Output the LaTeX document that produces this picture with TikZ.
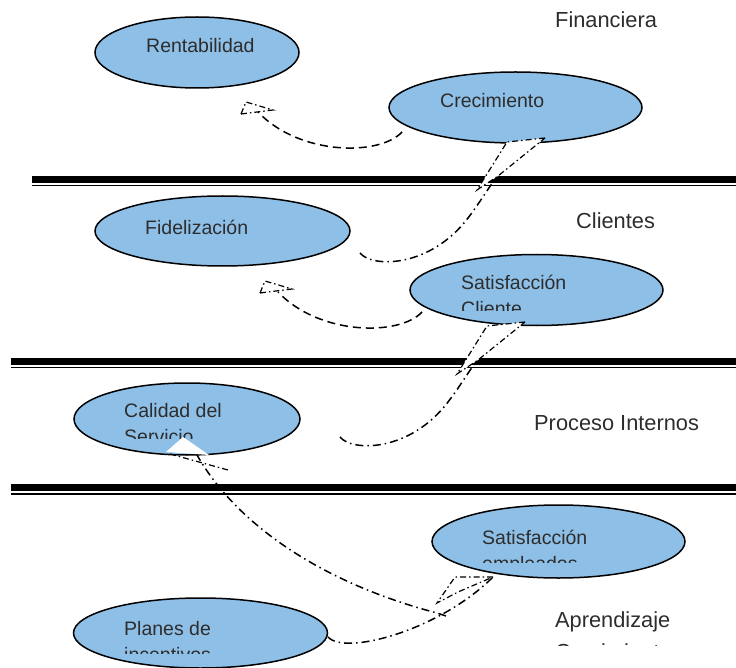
\documentclass[tikz,border=0pt]{standalone}
\usepackage{fontspec}
\setmainfont{Liberation Sans}
\usetikzlibrary{shapes.geometric}
\definecolor{bubble}{RGB}{142,191,231}
\definecolor{ink}{RGB}{45,45,45}

\begin{document}
\begin{tikzpicture}[x=1pt,y=-1pt,
  goal/.style={ellipse, draw=black, line width=1.5pt, fill=bubble, inner sep=0pt},
  gtext/.style={anchor=base west, inner sep=0pt, text=ink, font=\fontsize{19.5}{19.5}\selectfont},
  ltext/.style={anchor=base west, inner sep=0pt, text=ink, font=\fontsize{21.8}{21.8}\selectfont},
  rulethick/.style={line width=7pt},
  rulethin/.style={line width=1.3pt},
  dashlink/.style={line width=1.5pt, dash pattern=on 8pt off 5pt},
  dotlink/.style={line width=1.5pt, dash pattern=on 8pt off 4pt on 1.5pt off 4pt},
  headshape/.style={fill=white, line width=1.2pt, dash pattern=on 6pt off 3pt on 1.5pt off 3pt}
]
\useasboundingbox (0,0) rectangle (736,668);

% perspective separators (double rules)
\draw[rulethick] (32,179.5) -- (736,179.5);
\draw[rulethin]  (32,185.5) -- (736,185.5);
\draw[rulethick] (11,361.5) -- (736,361.5);
\draw[rulethin]  (11,367.5) -- (736,367.5);
\draw[rulethick] (11,487.5) -- (736,487.5);
\draw[rulethin]  (11,494)   -- (736,494);

% objectives
\node[goal, minimum width=204pt, minimum height=71pt] (rent) at (197,52.5) {};
\node[goal, minimum width=253pt, minimum height=71pt] (crec) at (515.5,107.5) {};
\node[goal, minimum width=255pt, minimum height=70pt] (fid)  at (222.5,231) {};
\node[goal, minimum width=253pt, minimum height=71pt] (satc) at (536.5,290) {};
\node[goal, minimum width=226pt, minimum height=72pt] (cal)  at (187,419) {};
\node[goal, minimum width=253pt, minimum height=73pt] (semp) at (558.5,541.5) {};
\node[goal, minimum width=254pt, minimum height=70pt] (plan) at (200.5,633) {};

% objective labels
\node[gtext] (rentT) at (146,53) {Rentabilidad};
\node[gtext] (crecT) at (440,108) {Crecimiento};
\node[gtext] (fidT)  at (145,235) {Fidelización};
\node[gtext] (satcT) at (461,290) {Satisfacción};
\begin{scope}
  \clip (400,295) rectangle (700,310);
  \node[gtext] (satcT2) at (461,316) {Cliente};
\end{scope}
\node[gtext] (calT) at (124,417) {Calidad del};
\begin{scope}
  \clip (100,420) rectangle (300,438);
  \node[gtext] (calT2) at (124,443) {Servicio};
\end{scope}
\node[gtext] (sempT) at (482,544) {Satisfacción};
\begin{scope}
  \clip (450,548) rectangle (700,562);
  \node[gtext] (sempT2) at (482,570) {empleados};
\end{scope}
\node[gtext] (planT) at (124,635) {Planes de};
\begin{scope}
  \clip (100,640) rectangle (300,653);
  \node[gtext] (planT2) at (124,661) {incentivos};
\end{scope}

% perspective titles
\node[ltext] (fin) at (555,28) {Financiera};
\node[ltext] (cli) at (576,229) {Clientes};
\node[ltext] (pro) at (534,430) {Proceso Internos};
\node[ltext] (apr) at (555,627) {Aprendizaje};
\begin{scope}
  \clip (540,632) rectangle (736,645);
  \node[ltext] (apr2) at (555,659) {Crecimiento};
\end{scope}

% connector end points
\coordinate (c1s) at (402,132);
\coordinate (c1e) at (258,112);
\coordinate (c2s) at (360,253);
\coordinate (c2m) at (468,218);
\coordinate (c2e) at (545,138);
\coordinate (c3s) at (422,312);
\coordinate (c3e) at (278,292);
\coordinate (c4s) at (340,437);
\coordinate (c4m) at (448,402);
\coordinate (c4e) at (525,322);
\coordinate (c5s) at (437,613);
\coordinate (c5e) at (197,455);
\coordinate (c6s) at (328,637);
\coordinate (c6e) at (493,577);

% cause-effect links
\draw[dashlink] (c1s) .. controls (380,156) and (300,156) .. (c1e);
\draw[dotlink]  (c2s) .. controls (372,268) and (430,268) .. (c2m)
                      .. controls (490,190) and (510,145) .. (c2e);
\draw[dashlink] (c3s) .. controls (400,336) and (320,336) .. (c3e);
\draw[dotlink]  (c4s) .. controls (352,452) and (410,452) .. (c4m)
                      .. controls (470,374) and (490,329) .. (c4e);
\draw[dotlink]  (446,616) -- (c5s) .. controls (330,585) and (240,530) .. (c5e);
\draw[dotlink]  (c6s) .. controls (345,656) and (440,630) .. (c6e);

% arrow heads
\draw[headshape, fill=none] (241,114) -- (246,102) -- (273,110) -- cycle;
\draw[headshape] (c2e) -- (507,142) -- (477,190) -- (498,176) -- cycle;
\draw[headshape, fill=none] (260,293) -- (265,281) -- (292,289) -- cycle;
\draw[headshape] (c4e) -- (487,326) -- (457,374) -- (478,360) -- cycle;
\fill[white] (166,452) -- (183,437) -- (209,455) -- cycle;
\draw[headshape] (170,454) -- (228,470);
\draw[headshape] (c6e) -- (455,577) -- (437,603) -- (458,592) -- cycle;
\end{tikzpicture}
\end{document}
